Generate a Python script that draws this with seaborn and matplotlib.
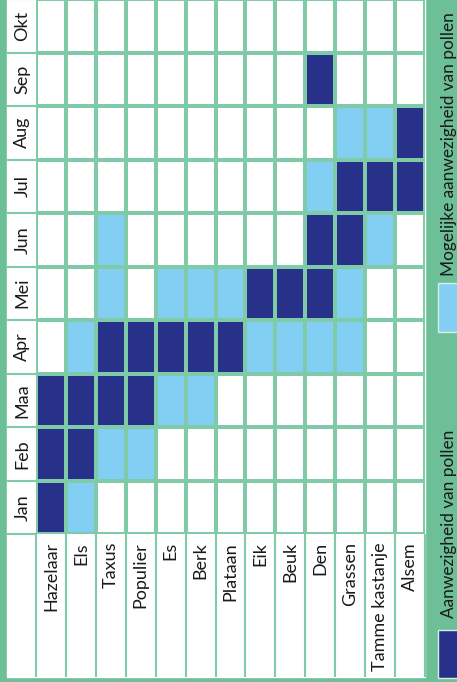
import numpy as np
import pandas as pd
import matplotlib
matplotlib.use("Agg")
import matplotlib.pyplot as plt
from matplotlib.colors import ListedColormap
from matplotlib.patches import Rectangle
import seaborn as sns

# data: 0 = geen, 1 = mogelijke aanwezigheid, 2 = aanwezigheid
months = ["Jan", "Feb", "Maa", "Apr", "Mei", "Jun", "Jul", "Aug", "Sep", "Okt"]
plants = ["Hazelaar", "Els", "Taxus", "Populier", "Es", "Berk", "Plataan",
          "Eik", "Beuk", "Den", "Grassen", "Tamme kastanje", "Alsem"]
hazelaar = [2, 2, 2, 0, 0, 0, 0, 0, 0, 0]
els = [1, 2, 2, 1, 0, 0, 0, 0, 0, 0]
taxus = [0, 1, 2, 2, 1, 1, 0, 0, 0, 0]
populier = [0, 1, 2, 2, 0, 0, 0, 0, 0, 0]
es = [0, 0, 1, 2, 1, 0, 0, 0, 0, 0]
berk = [0, 0, 1, 2, 1, 0, 0, 0, 0, 0]
plataan = [0, 0, 0, 2, 1, 0, 0, 0, 0, 0]
eik = [0, 0, 0, 1, 2, 0, 0, 0, 0, 0]
beuk = [0, 0, 0, 1, 2, 0, 0, 0, 0, 0]
den = [0, 0, 0, 1, 2, 2, 1, 0, 2, 0]
grassen = [0, 0, 0, 1, 1, 2, 2, 1, 0, 0]
tamme_kastanje = [0, 0, 0, 0, 0, 1, 2, 1, 0, 0]
alsem = [0, 0, 0, 0, 0, 0, 2, 2, 0, 0]
legend_labels = ["Aanwezigheid van pollen", "Mogelijke aanwezigheid van pollen"]

series = [hazelaar, els, taxus, populier, es, berk, plataan, eik, beuk,
          den, grassen, tamme_kastanje, alsem]
df = pd.DataFrame(np.array(series).T, index=months, columns=plants)
df = df.iloc[::-1]  # Okt bovenaan, Jan onderaan

green = "#6cbf97"
gridc = "#7fcba8"
dark = "#27318a"
light = "#82cff3"
textc = "#1a1a1a"

plt.rcParams["font.family"] = ["Lato", "DejaVu Sans"]

W, H = 457, 682
fig = plt.figure(figsize=(W / 100, H / 100), dpi=100, facecolor=green)
fig.add_artist(Rectangle((7 / W, 5 / H), 418 / W, 677 / H,
                         transform=fig.transFigure, color="white", zorder=0))

ax = fig.add_axes([36 / W, (H - 534) / H, 389 / W, 535 / H])
sns.heatmap(df, ax=ax, cmap=ListedColormap(["white", light, dark]),
            vmin=-0.5, vmax=2.5, cbar=False, linewidths=1.5, linecolor=gridc,
            xticklabels=False, yticklabels=False)
ax.set_xlabel("")
ax.set_ylabel("")

px_x = 389 / len(plants)
px_y = 535 / len(months)
left = -(36 - 7) / px_x
bottom = len(months) + (677 - 534) / px_y

ax.vlines(np.arange(len(plants) + 1), len(months), bottom,
          colors=gridc, lw=1.5, clip_on=False)
ax.hlines(np.arange(len(months) + 1), left, 0,
          colors=gridc, lw=1.5, clip_on=False)

for i, m in enumerate(df.index):
    ax.text(left / 2 + 0.03, i + 0.5, m, rotation=90, ha="center",
            va="center", fontsize=13, color=textc, clip_on=False)
for j, p in enumerate(plants):
    ax.text(j + 0.5, len(months) + 8 / px_y, p, rotation=90, ha="center",
            va="top", fontsize=13, color=textc, clip_on=False)

# legenda
fig.add_artist(Rectangle((438 / W, (H - 678) / H), 25 / W, 48 / H,
                         transform=fig.transFigure, facecolor=dark,
                         edgecolor="#d8eee3", lw=1))
fig.add_artist(Rectangle((438 / W, (H - 332) / H), 25 / W, 49 / H,
                         transform=fig.transFigure, facecolor=light,
                         edgecolor="#d8eee3", lw=1))
fig.text(449 / W, (H - 618) / H, legend_labels[0], rotation=90,
         ha="center", va="bottom", fontsize=12.4, color=textc)
fig.text(449 / W, (H - 276) / H, legend_labels[1], rotation=90,
         ha="center", va="bottom", fontsize=12.4, color=textc)

fig.savefig("out.png", dpi=100, facecolor=green)
